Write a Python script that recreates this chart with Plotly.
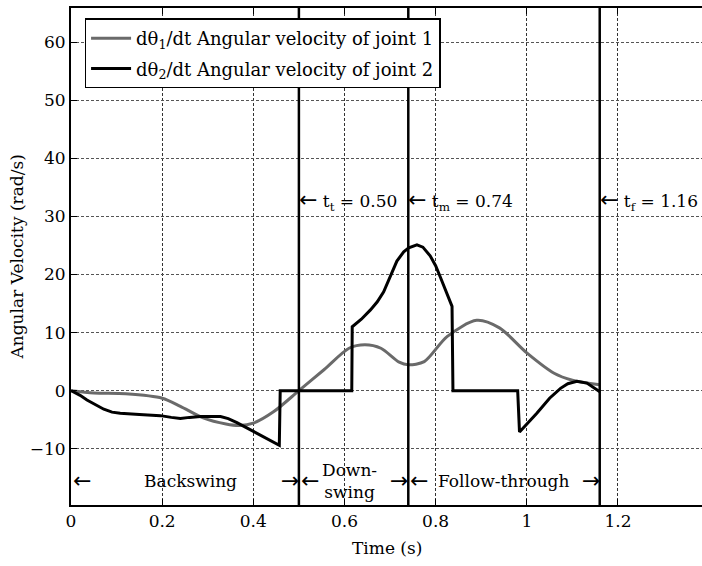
import plotly.graph_objects as go

# ---- data ----
t_joint1 = [0, 0.05, 0.12, 0.2, 0.24, 0.29, 0.34, 0.37, 0.40, 0.445, 0.5, 0.555, 0.61, 0.645,
            0.68, 0.72, 0.74, 0.775, 0.825, 0.89, 0.94, 1.0, 1.06, 1.10, 1.16]
w_joint1 = [0, -0.4, -0.55, -1.3, -2.7, -4.7, -5.75, -6.0, -5.6, -3.6, 0, 3.6, 7.3, 7.9,
            7.3, 4.9, 4.45, 5.0, 9.3, 12.1, 10.8, 6.5, 3.0, 1.8, 1.0]

t_joint2 = [0, 0.02, 0.035, 0.055, 0.072, 0.09, 0.108, 0.15, 0.196, 0.22, 0.24, 0.26, 0.284,
            0.328, 0.345, 0.364, 0.39, 0.415, 0.435, 0.457, 0.459,
            0.616, 0.617, 0.637, 0.657, 0.672, 0.686, 0.70, 0.715, 0.73, 0.741, 0.759, 0.772,
            0.788, 0.80, 0.81, 0.823, 0.836, 0.838,
            0.98, 0.984, 1.0, 1.022, 1.05, 1.074, 1.09, 1.11, 1.132, 1.161]
w_joint2 = [0, -0.8, -1.6, -2.5, -3.2, -3.7, -3.9, -4.1, -4.3, -4.6, -4.8, -4.6, -4.45,
            -4.45, -4.8, -5.5, -6.6, -7.7, -8.6, -9.4, 0,
            0, 11.0, 12.3, 13.9, 15.3, 17.0, 19.5, 22.3, 23.9, 24.6, 25.1, 24.7,
            23.2, 21.5, 19.6, 17.0, 14.5, 0,
            0, -7.1, -5.8, -3.9, -1.3, 0.4, 1.2, 1.6, 1.3, -0.25]

phase_times = [0.50, 0.74, 1.16]
phase_labels = ["t<sub>t</sub> = 0.50", "t<sub>m</sub> = 0.74", "t<sub>f</sub> = 1.16"]

x_ticks = [0, 0.2, 0.4, 0.6, 0.8, 1.0, 1.2]
x_ticktext = ["0", "0.2", "0.4", "0.6", "0.8", "1", "1.2"]
y_ticks = [-10, 0, 10, 20, 30, 40, 50, 60]
y_ticktext = ["\u221210", "0", "10", "20", "30", "40", "50", "60"]

series_names = ["d\u03b8<sub>1</sub>/dt Angular velocity of joint 1",
                "d\u03b8<sub>2</sub>/dt Angular velocity of joint 2"]

phase_bounds = [0.0, 0.50, 0.74, 1.16]
phase_names = ["Backswing", "Down-<br>swing", "Follow-through"]
phase_centers = [0.262, 0.612, 0.948]

FONT = "DejaVu Serif"
FS = 17
LARR = '<span style="font-family:DejaVu Sans;font-size:22px">\u2190</span>'
RARR = '<span style="font-family:DejaVu Sans;font-size:22px">\u2192</span>'

fig = go.Figure()
fig.add_trace(go.Scatter(x=t_joint1, y=w_joint1, mode="lines", name=series_names[0],
                         legendgroup="j1",
                         line=dict(color="#6a6a6a", width=3, shape="spline", smoothing=0.8)))
fig.add_trace(go.Scatter(x=t_joint2, y=w_joint2, mode="lines", name=series_names[1],
                         legendgroup="j2",
                         line=dict(color="black", width=3)))

for t in phase_times:
    fig.add_shape(type="line", xref="x", yref="paper", x0=t, x1=t, y0=0, y1=1,
                  line=dict(color="black", width=2.5))

for t, lab in zip(phase_times, phase_labels):
    fig.add_annotation(x=t, y=32.8, xref="x", yref="y", text=LARR + " " + lab,
                       showarrow=False, xanchor="left", yanchor="middle", xshift=-2,
                       font=dict(family=FONT, size=FS, color="black"))

yb = -15.5
for i in range(3):
    fig.add_annotation(x=phase_bounds[i], y=yb, xref="x", yref="y", text=LARR,
                       showarrow=False, xanchor="left", yanchor="middle", xshift=0,
                       font=dict(family=FONT, size=FS, color="black"))
    fig.add_annotation(x=phase_bounds[i + 1], y=yb, xref="x", yref="y", text=RARR,
                       showarrow=False, xanchor="right", yanchor="middle", xshift=2,
                       font=dict(family=FONT, size=FS, color="black"))
    fig.add_annotation(x=phase_centers[i], y=yb, xref="x", yref="y", text=phase_names[i],
                       showarrow=False, xanchor="center", yanchor="middle",
                       font=dict(family=FONT, size=FS, color="black"))

# axis titles
fig.add_annotation(x=0.5, y=-0.0865, xref="paper", yref="paper", text="Time (s)",
                   showarrow=False, xanchor="center", yanchor="middle",
                   font=dict(family=FONT, size=FS, color="black"))
fig.add_annotation(x=-0.0856, y=0.5, xref="paper", yref="paper",
                   text="Angular Velocity (rad/s)", textangle=-90,
                   showarrow=False, xanchor="center", yanchor="middle",
                   font=dict(family=FONT, size=FS, color="black"))

fig.update_layout(
    width=702, height=566,
    margin=dict(l=71, r=0, t=8, b=61, autoexpand=False),
    plot_bgcolor="white", paper_bgcolor="white",
    font=dict(family=FONT, size=FS, color="black"),
    showlegend=True,
    legend=dict(x=0.0215, y=0.979, xanchor="left", yanchor="top",
                bgcolor="white", bordercolor="black", borderwidth=1.5,
                font=dict(family=FONT, size=18), tracegroupgap=4,
                itemwidth=40),
    xaxis=dict(range=[0, 1.3844], tickvals=x_ticks, ticktext=x_ticktext,
               showgrid=True, gridcolor="#333333", griddash="3px,2px", gridwidth=1,
               showline=True, linecolor="black", linewidth=2, mirror="ticks",
               ticks="inside", ticklen=6, tickcolor="black", zeroline=False,
               automargin=False, tickfont=dict(family=FONT, size=FS)),
    yaxis=dict(range=[-19.68, 65.86], tickvals=y_ticks, ticktext=y_ticktext,
               showgrid=True, gridcolor="#555555", griddash="3px,2px", gridwidth=1,
               showline=True, linecolor="black", linewidth=2, mirror=False,
               ticks="inside", ticklen=6, tickcolor="black", zeroline=False,
               automargin=False, tickfont=dict(family=FONT, size=FS)),
)

fig.write_html("out.html", config={"displayModeBar": False},
               post_script="document.body.style.margin='0px';document.body.style.overflow='hidden';")
